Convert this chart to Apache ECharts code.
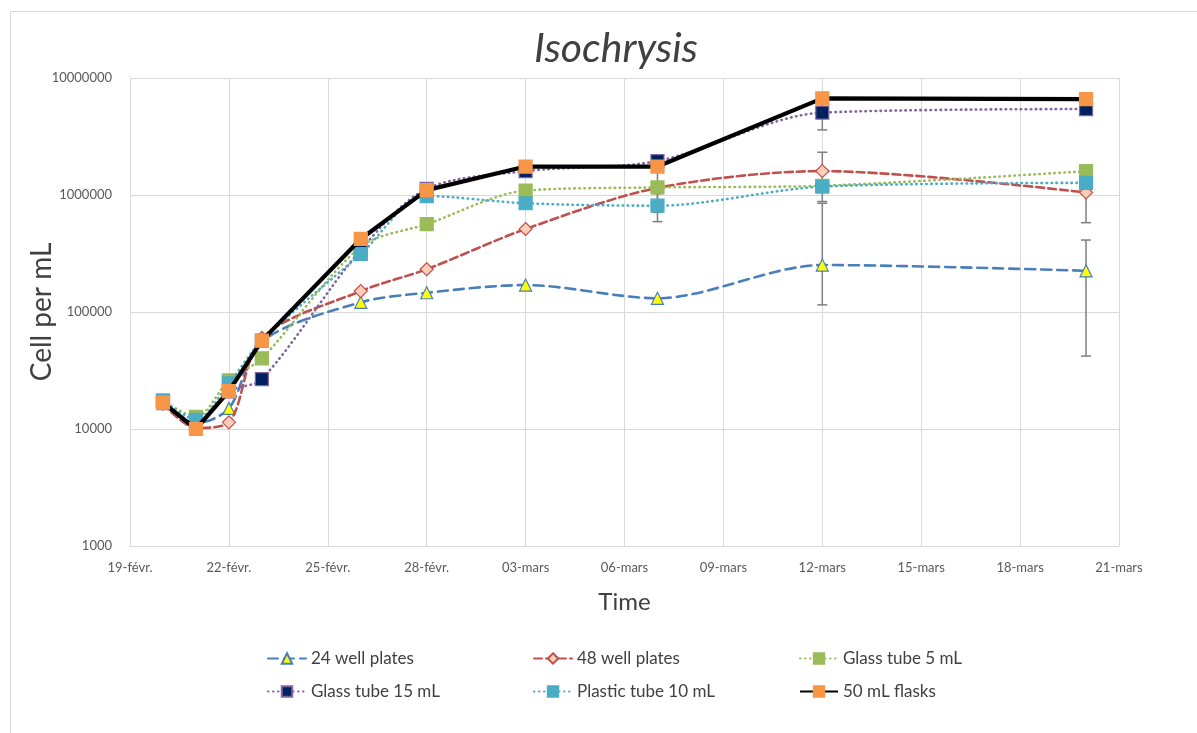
<!DOCTYPE html>
<html>
<head>
<meta charset="utf-8">
<script src="https://cdn.jsdelivr.net/npm/echarts@6/dist/echarts.min.js"></script>
<style>html,body{margin:0;padding:0;background:#fff}#c{width:1197px;height:733px}</style>
</head>
<body>
<div id="c"></div>
<script>
// ---- data ----
var dates = ['2018-02-20','2018-02-21','2018-02-22','2018-02-23','2018-02-26','2018-02-28','2018-03-03','2018-03-07','2018-03-12','2018-03-20'];
var startDate = '2018-02-19';
var endDate = '2018-03-21';
var seriesNames = ['24 well plates','48 well plates','Glass tube 5 mL','Glass tube 15 mL','Plastic tube 10 mL','50 mL flasks'];
var well24   = [16500, 11200, 15000, 56000, 121000, 146000, 170000, 131000, 252000, 225000];
var well48   = [16500, 10200, 11400, 60000, 151000, 232000, 512000, 1150000, 1600000, 1050000];
var glass5   = [17500, 12700, 26000, 40200, 361000, 563000, 1090000, 1160000, 1200000, 1600000];
var glass15  = [17000, 11000, 21000, 26700, 340000, 1130000, 1600000, 1950000, 5060000, 5430000];
var plastic10= [17500, 12000, 24500, 57000, 313000, 980000, 850000, 810000, 1180000, 1270000];
var flask50  = [16800, 10000, 21100, 56900, 421000, 1100000, 1750000, 1750000, 6700000, 6600000];
// error bar ends (low / high), null where there is no error bar
var well24Low    = [null, null, null, null, null, null, null, null, 115000, 42000];
var well24High   = [null, null, null, null, null, null, null, null, 850000, 412000];
var well48Low    = [null, null, null, null, null, null, null, null, 880000, 580000];
var well48High   = [null, null, null, null, null, null, null, null, 2320000, 1520000];
var glass5Low    = [null, null, null, null, null, null, null, 710000, null, null];
var glass5High   = [null, null, null, null, null, null, null, 1610000, null, null];
var glass15Low   = [null, null, null, null, null, null, null, null, 3600000, 4900000];
var glass15High  = [null, null, null, null, null, null, null, null, 6520000, 5960000];
var plastic10Low = [null, null, null, null, null, null, null, 592000, null, null];
var plastic10High= [null, null, null, null, null, null, null, 1028000, null, null];
var monthNames = ['janv.','févr.','mars','avr.','mai','juin','juil.','août','sept.','oct.','nov.','déc.'];

// ---- helpers ----
var DAY = 86400000;
function t(s){ return Date.parse(s + 'T00:00:00Z'); }
var t0 = t(startDate);
function off(s){ return Math.round((t(s) - t0) / DAY); }
var xs = dates.map(off);
function pts(vals){ return vals.map(function(v,i){ return [xs[i], v]; }); }
function errPts(lows, highs){
  var out = [];
  lows.forEach(function(l,i){ if(l != null){ out.push([xs[i], l, highs[i]]); } });
  return out;
}
function fmtX(v){
  var d = new Date(t0 + v*DAY);
  var dd = d.getUTCDate();
  return (dd < 10 ? '0' + dd : '' + dd) + '-' + monthNames[d.getUTCMonth()];
}

var FONT = 'Lato, "Open Sans", sans-serif';

function errSeries(lows, highs){
  return {
    type: 'custom',
    silent: true,
    z: 1,
    data: errPts(lows, highs),
    renderItem: function(params, api){
      var x = api.value(0);
      var lo = api.coord([x, api.value(1)]);
      var hi = api.coord([x, api.value(2)]);
      var w = 5;
      var st = {stroke: '#7f7f7f', lineWidth: 1.5};
      return {type: 'group', children: [
        {type:'line', shape:{x1:lo[0], y1:lo[1], x2:hi[0], y2:hi[1]}, style: st},
        {type:'line', shape:{x1:lo[0]-w, y1:lo[1], x2:lo[0]+w, y2:lo[1]}, style: st},
        {type:'line', shape:{x1:hi[0]-w, y1:hi[1], x2:hi[0]+w, y2:hi[1]}, style: st}
      ]};
    }
  };
}

var styles = [
  {data: well24, color:'#4a7ebb', width:2.6, type:[10,6], symbol:'triangle', size:12, fill:'#ffff00', border:'#4a7ebb', smooth:0.3},
  {data: well48, color:'#c0504d', width:2.6, type:[8,4], symbol:'diamond', size:13, fill:'#fbcfb7', border:'#c0504d', smooth:0.3},
  {data: glass5, color:'#9bbb59', width:2.6, type:[0.5,4.5], symbol:'rect', size:13, fill:'#9bbb59', border:'#9bbb59', smooth:0.3},
  {data: glass15, color:'#8064a2', width:2.6, type:[0.5,4.5], symbol:'rect', size:13, fill:'#002060', border:'#8064a2', smooth:0.3},
  {data: plastic10, color:'#4bacc6', width:2.6, type:[0.5,4.5], symbol:'rect', size:13, fill:'#4bacc6', border:'#4bacc6', smooth:0.3},
  {data: flask50, color:'#000000', width:4.2, type:'solid', symbol:'rect', size:13, fill:'#f79646', border:'#f79646', smooth:false}
];

var series = styles.map(function(s, i){
  return {
    name: seriesNames[i],
    type: 'line',
    data: pts(s.data),
    smooth: s.smooth,
    z: 2 + i,
    symbol: s.symbol,
    symbolSize: s.size,
    showAllSymbol: true,
    lineStyle: {color: s.color, width: s.width, type: s.type, cap: s.type === 'solid' ? 'butt' : 'round'},
    itemStyle: {color: s.fill, borderColor: s.border, borderWidth: 1.2, opacity: 1},
    emphasis: {disabled: true}
  };
});
series.push(errSeries(well24Low, well24High));
series.push(errSeries(well48Low, well48High));
series.push(errSeries(glass5Low, glass5High));
series.push(errSeries(glass15Low, glass15High));
series.push(errSeries(plastic10Low, plastic10High));

var legendPos = [[262, 645],[528, 645],[794, 645],[262, 678],[528, 678],[794, 678]];
var legends = seriesNames.map(function(n, i){
  return {
    data: [n], left: legendPos[i][0], top: legendPos[i][1],
    itemWidth: 38, itemHeight: 13, itemGap: 6,
    selectedMode: false,
    textStyle: {fontFamily: FONT, fontSize: 17, color: '#404040'}
  };
});

var chart = echarts.init(document.getElementById('c'), null, {renderer: 'canvas'});
chart.setOption({
  backgroundColor: '#ffffff',
  animation: false,
  title: {
    text: 'Isochrysis', left: 611, top: 23, textAlign: 'center',
    textStyle: {fontFamily: FONT, fontStyle: 'italic', fontWeight: 'normal', fontSize: 41, color: '#404040'}
  },
  graphic: [{type:'rect', shape:{x:10.5, y:11.5, width:1200, height:740}, style:{fill:'none', stroke:'#d9d9d9', lineWidth:1}, silent:true}],
  legend: legends,
  grid: {left: 130, right: 78, top: 78, bottom: 187, containLabel: false},
  xAxis: {
    type: 'value', min: 0, max: off(endDate), interval: 3,
    name: 'Time', nameLocation: 'middle', nameGap: 44, nameMoveOverlap: false,
    nameTextStyle: {fontFamily: FONT, fontSize: 24, color: '#404040'},
    axisLine: {show: true, lineStyle: {color: '#d9d9d9', width: 1}},
    axisTick: {show: false},
    axisLabel: {formatter: fmtX, fontFamily: FONT, fontSize: 13, color: '#595959', margin: 15},
    splitLine: {show: true, lineStyle: {color: '#d9d9d9', width: 1}}
  },
  yAxis: {
    type: 'log', logBase: 10, min: 1000, max: 10000000,
    name: 'Cell per mL', nameLocation: 'middle', nameGap: 74, nameRotate: 90, nameMoveOverlap: false,
    nameTextStyle: {fontFamily: FONT, fontSize: 28, color: '#404040'},
    axisLine: {show: true, lineStyle: {color: '#d9d9d9', width: 1}},
    axisTick: {show: false},
    axisLabel: {formatter: function(v){ return String(Math.round(v)); }, fontFamily: FONT, fontSize: 13, color: '#595959', margin: 18},
    splitLine: {show: true, lineStyle: {color: '#d9d9d9', width: 1}}
  },
  series: series
});
</script>
</body>
</html>
